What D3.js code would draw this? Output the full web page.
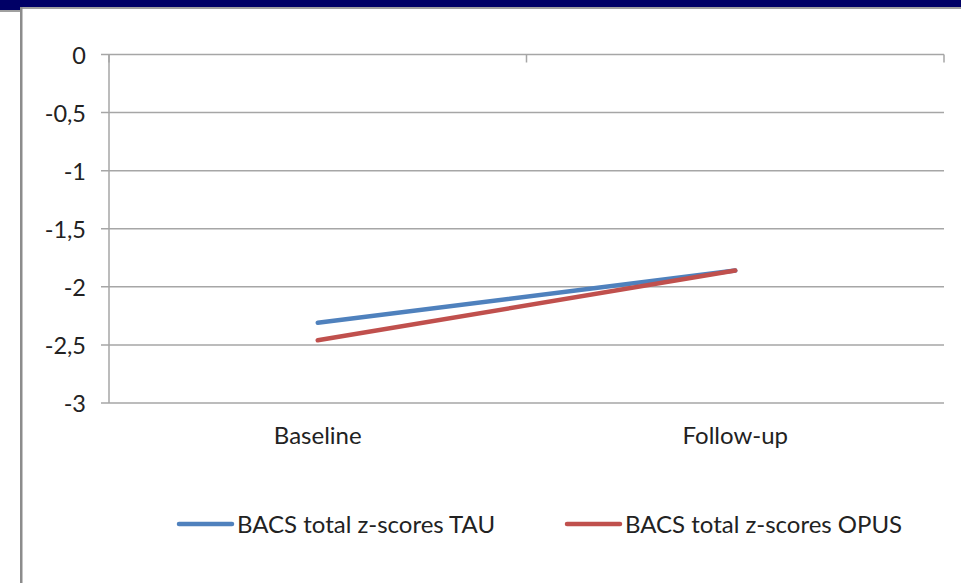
<!DOCTYPE html>
<html>
<head>
<meta charset="utf-8">
<script src="https://cdn.jsdelivr.net/npm/d3@7/dist/d3.min.js"></script>
<style>
  html, body { margin: 0; padding: 0; background: #fff; }
  svg { display: block; }
  text { font-family: Lato, "Liberation Sans", sans-serif; fill: #222; }
</style>
</head>
<body>
<svg id="chart" width="961" height="583"></svg>
<script>
// Categories and series
const categories = ["Baseline", "Follow-up"];
const tauScores = [-2.31, -1.86];
const opusScores = [-2.46, -1.86];
const seriesNames = ["BACS total z-scores TAU", "BACS total z-scores OPUS"];
const seriesColors = ["#4f81bd", "#c0504d"];
const yTicks = [0, -0.5, -1, -1.5, -2, -2.5, -3];
const yTickLabels = ["0", "-0,5", "-1", "-1,5", "-2", "-2,5", "-3"];

const svg = d3.select("#chart");

// Slide frame: dark title bar and grey edges
svg.append("rect").attr("x", 0).attr("y", 0).attr("width", 961).attr("height", 7).attr("fill", "#000066");
svg.append("rect").attr("x", 0).attr("y", 0).attr("width", 21).attr("height", 10).attr("fill", "#000066");
svg.append("rect").attr("x", 21).attr("y", 7).attr("width", 940).attr("height", 2).attr("fill", "#a0a0a0");
svg.append("rect").attr("x", 0).attr("y", 10).attr("width", 21).attr("height", 2).attr("fill", "#a0a0a0");
svg.append("rect").attr("x", 20).attr("y", 7).attr("width", 2.5).attr("height", 576).attr("fill", "#8c8c8c");

const plotLeft = 109, plotRight = 944, plotTop = 54.5, plotBottom = 403;

const x = d3.scaleBand().domain(categories).range([plotLeft, plotRight]);
const y = d3.scaleLinear().domain([-3, 0]).range([plotBottom, plotTop]);

const gridColor = "#a6a6a6";

// Horizontal gridlines
svg.append("g").selectAll("line").data(yTicks).join("line")
  .attr("x1", plotLeft - 8).attr("x2", plotRight)
  .attr("y1", d => y(d)).attr("y2", d => y(d))
  .attr("stroke", gridColor).attr("stroke-width", 1.5);

// Value axis line
svg.append("line").attr("x1", plotLeft).attr("x2", plotLeft).attr("y1", plotTop).attr("y2", plotBottom)
  .attr("stroke", gridColor).attr("stroke-width", 1.5);

// Category tick marks along the zero line (boundaries between categories)
const boundaries = categories.map(c => x(c)).concat([x(categories[categories.length - 1]) + x.bandwidth()]);
svg.append("g").selectAll("line").data(boundaries).join("line")
  .attr("x1", d => d).attr("x2", d => d)
  .attr("y1", y(0)).attr("y2", y(0) + 8)
  .attr("stroke", gridColor).attr("stroke-width", 1.5);

// Y tick labels
svg.append("g").selectAll("text").data(yTicks).join("text")
  .attr("x", 86).attr("y", d => y(d))
  .attr("text-anchor", "end").attr("dominant-baseline", "central")
  .attr("font-size", 23.5)
  .text((d, i) => yTickLabels[i]);

// Category labels
svg.append("g").selectAll("text").data(categories).join("text")
  .attr("x", d => x(d) + x.bandwidth() / 2).attr("y", 444)
  .attr("text-anchor", "middle")
  .attr("font-size", 24)
  .text(d => d);

// Series lines
const line = d3.line()
  .x((d, i) => x(categories[i]) + x.bandwidth() / 2)
  .y(d => y(d));

[tauScores, opusScores].forEach((vals, i) => {
  svg.append("path").datum(vals)
    .attr("d", line)
    .attr("fill", "none")
    .attr("stroke", seriesColors[i])
    .attr("stroke-width", 4.5)
    .attr("stroke-linecap", "round");
});

// Legend
const legendX = [179, 567];
seriesNames.forEach((name, i) => {
  const g = svg.append("g").attr("transform", `translate(${legendX[i]},524)`);
  g.append("line").attr("x1", 0).attr("x2", 53).attr("y1", 0).attr("y2", 0)
    .attr("stroke", seriesColors[i]).attr("stroke-width", 4.5).attr("stroke-linecap", "round");
  g.append("text").attr("x", 58).attr("y", 9).attr("font-size", 24).text(name);
});
</script>
</body>
</html>
